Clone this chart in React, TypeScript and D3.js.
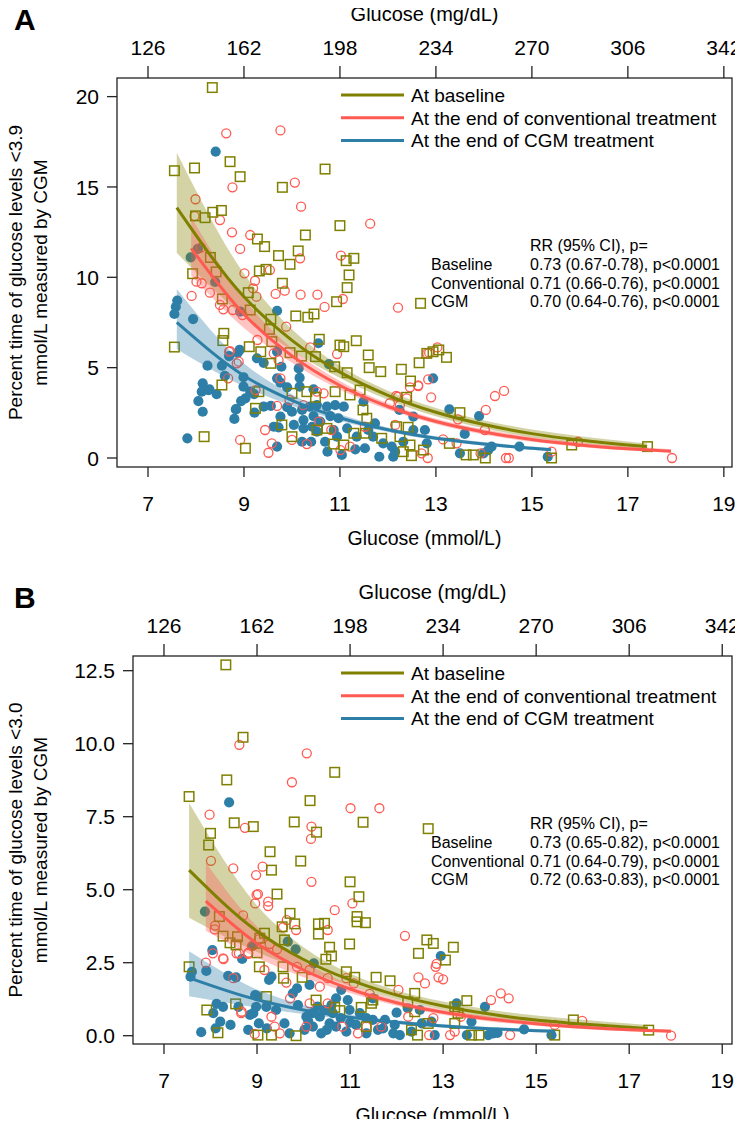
import React from "react";
import * as d3 from "d3";

// ---------- DATA ----------
// Panel A: percent time < 3.9 mmol/L ; x = mean glucose (mmol/L)
const baselineA: [number, number][] = [
  [8.34,20.5],[7.55,15.9],[7.97,16.05],[8.71,16.4],[8.92,15.57],[7.99,13.4],[8.19,13.3],[8.35,13.6],[8.53,13.7],[8.30,11.1],[7.93,10.2],[8.42,10.3],[8.55,8.8],[8.58,6.9],[8.56,6.5],[7.55,6.14],[8.54,4.04],[8.17,1.18],
  [9.80,14.98],[10.69,15.99],[11.0,12.86],[10.28,12.34],[9.28,12.12],[9.43,11.7],[10.13,11.46],[9.72,11.2],[9.96,10.72],[11.13,10.92],[11.29,11.05],[11.19,10.13],[9.32,10.35],[9.46,10.44],[9.80,9.67],[11.15,9.43],[9.09,9.15],[10.93,8.65],[12.68,8.56],[9.13,8.19],[10.08,7.86],[10.33,7.79],[10.46,7.97],[9.56,7.68],[9.53,7.12],[9.11,6.16],[9.35,5.88],[10.57,6.57],[11.0,6.25],[11.08,6.16],[11.34,6.49],[11.59,5.70],[11.61,5.0],[11.85,4.78],[12.28,4.91],[12.65,5.27],[12.47,4.26],[12.81,5.79],[9.58,6.44],[9.96,5.83],[10.2,5.64],
  [9.56,5.24],[10.49,5.61],[10.89,5.05],[11.15,4.72],[9.31,3.67],[10.0,3.58],[10.31,3.67],[10.49,3.36],[10.90,3.67],[11.21,3.49],[11.48,2.66],[9.24,2.75],[9.79,1.83],[10.0,1.18],[10.52,1.55],[10.73,1.64],[10.87,0.77],[11.08,0.72],[11.29,1.37],[9.03,0.54],[11.53,1.37],
  [13.06,5.98],[13.22,5.57],[12.39,3.36],[11.42,3.76],[11.56,2.20],[13.5,2.51],[12.18,1.73],[12.42,1.70],[11.87,1.09],[12.25,1.18],[12.46,0.72],[12.32,0.35],[12.49,0.13],[12.74,0.44],[13.28,0.81],[13.63,0.17],[13.78,0.17],[14.03,0.0],[15.41,0.0],[15.83,0.72],[17.41,0.63],[12.94,5.88]
];
const conventionalA: [number, number][] = [
  [8.63,17.97],[8.76,14.98],[7.99,14.32],[8.5,13.17],[8.75,12.49],[7.97,13.39],[8.1,11.64],[8.92,11.57],[8.01,9.76],[8.12,9.67],[8.29,9.15],[7.91,8.97],[8.5,8.47],[8.57,8.23],[8.77,8.19],[8.69,5.88],[8.85,5.24],[8.67,4.41],[8.92,1.0],
  [9.76,18.13],[10.06,15.24],[10.19,13.91],[11.63,12.97],[9.13,12.34],[10.17,11.05],[11.02,11.2],[9.01,10.22],[9.54,10.4],[9.23,9.81],[9.19,9.39],[9.66,9.08],[9.85,9.26],[10.18,9.04],[10.53,9.04],[10.68,8.36],[11.06,8.80],[12.21,8.32],[9.26,8.93],[8.97,7.91],[9.88,7.27],[10.38,6.12],[10.94,5.75],[12.82,5.79],[12.63,4.02],[12.21,3.39],
  [9.28,6.53],[9.62,5.79],[8.89,5.33],[8.71,5.92],[9.72,5.42],[9.24,3.76],[9.76,4.41],[10.52,3.67],[10.66,3.58],[9.69,2.88],[9.95,3.21],[10.24,2.93],[10.56,2.01],[10.82,1.55],[9.44,1.55],[10.0,1.0],[10.31,0.77],[9.58,0.81],[9.51,0.29],[11.01,0.44],[11.21,0.63],
  [13.03,6.12],[12.86,5.83],[12.46,3.91],[12.63,3.98],[12.84,4.35],[12.90,3.36],[14.23,3.43],[14.42,3.71],[14.04,2.66],[13.46,2.14],[14.02,1.55],[13.15,1.03],[13.43,0.81],[13.93,0.26],[14.46,0.0],[14.52,0.0],[15.96,0.90],[15.41,0.35],[12.70,0.26],[12.83,0.0],[12.04,3.03],[12.17,3.43],[12.25,2.93],[12.39,3.30],[11.52,1.73],[12.15,1.83],[17.92,0.0]
];
const cgmA: [number, number][] = [
  [8.41,16.95],[7.89,11.1],[8.04,11.57],[8.40,9.74],[7.61,8.71],[7.58,8.37],[7.55,7.97],[7.94,7.69],[8.92,8.1],[8.69,5.64],[8.87,5.83],[8.24,5.11],[8.54,5.11],[8.60,4.54],[8.14,4.13],[8.12,3.67],[8.26,3.76],[8.43,3.54],[8.05,3.15],[8.14,2.56],[8.83,2.69],[8.80,2.16],[7.82,1.09],
  [9.69,8.15],[10.55,6.35],[8.91,5.98],[9.27,5.52],[9.41,5.27],[9.78,5.05],[9.69,5.88],[10.14,4.96],[10.77,5.20],[8.99,4.47],[9.69,4.41],[9.76,4.17],[9.90,3.91],[10.16,3.95],[10.45,3.80],[8.28,3.80],[8.99,3.95],[9.13,3.67],[9.21,3.54],[9.03,3.30],[8.94,3.15],[8.84,2.71],[9.22,2.51],[9.41,2.84],[9.56,2.88],[9.76,2.29],[9.90,2.81],[10.0,2.56],[10.21,2.66],[10.37,2.84],[10.52,2.93],[10.73,2.84],[10.90,2.93],[11.08,2.84],[10.24,2.10],[10.45,2.32],[10.59,2.01],[10.80,2.32],[10.97,2.20],[9.62,1.73],[9.72,1.70],[10.04,1.83],[10.24,1.64],[10.42,1.73],[10.52,1.46],[10.87,1.55],[11.15,1.64],[11.35,1.18],[10.21,0.90],[10.40,0.90],[10.69,0.90],[10.94,1.18],[9.69,0.63],[10.74,0.35],[11.04,0.17],[11.32,0.48],[10.16,4.44],
  [12.94,4.41],[13.28,2.69],[13.90,2.32],[13.60,1.33],[11.49,3.12],[11.73,1.92],[11.59,1.55],[11.69,1.18],[11.90,0.81],[11.52,0.54],[11.82,0.07],[12.11,0.07],[12.08,0.63],[12.32,0.90],[12.15,0.35],[12.53,1.55],[12.77,1.55],[12.81,0.81],[12.24,2.66],[12.53,2.29],[13.5,0.26],[13.99,0.26],[14.09,0.44],[14.16,0.63],[14.74,0.63],[15.33,0.07]
];

// Panel B: percent time < 3.0 mmol/L
const baselineB: [number, number][] = [
  [8.33,12.70],[8.70,10.22],[8.35,8.76],[7.54,8.19],[8.0,6.93],[7.96,6.53],[8.51,7.29],[8.92,7.16],[8.19,4.08],[8.27,3.41],[8.42,3.18],[8.55,3.11],[8.58,3.39],[7.54,2.36],[7.92,0.88],[8.54,1.09],[9.05,2.36],[9.06,3.34],
  [9.16,3.51],[9.0,2.84],[9.43,4.85],[9.71,4.19],[9.81,3.83],[9.54,3.73],[9.59,3.28],[9.56,2.36],[9.57,1.97],[9.97,2.0],[10.32,3.83],[10.45,3.85],[10.32,3.48],[11.0,5.27],[11.19,4.76],[11.15,4.08],[11.15,3.90],[11.33,3.87],[10.99,3.14],[10.56,3.03],[10.60,2.73],[10.48,2.62],[10.92,2.19],[11.10,2.0],[11.56,2.0],[10.27,1.22],[9.20,1.34],[8.16,0.10],[9.02,0.02],[9.31,0.02],[9.84,0.0],[10.67,0.97],[10.78,0.86],[11.24,0.97],[11.46,1.11],[11.49,1.22],[11.35,0.31],
  [10.67,9.02],[10.14,8.05],[9.80,7.32],[10.28,6.97],[11.28,7.31],[12.68,7.09],[9.28,6.30],[9.94,5.98],[9.31,5.67],[12.65,3.28],[12.79,3.16],[12.47,2.82],[11.86,1.88],[12.39,1.45],
  [13.22,3.03],[13.05,2.59],[13.51,1.20],[12.24,1.16],[13.25,0.99],[13.32,0.77],[12.39,0.82],[12.32,0.20],[12.45,0.02],[13.25,0.42],[13.61,0.02],[13.77,0.02],[15.40,0.02],[15.80,0.54],[12.68,0.42],[17.42,0.19]
];
const conventionalB: [number, number][] = [
  [8.62,9.96],[7.98,7.57],[8.74,7.12],[8.01,5.99],[8.49,5.73],[8.98,5.50],[8.99,4.82],[8.96,4.53],[8.70,4.12],[8.10,3.77],[8.09,3.64],[7.90,2.50],[8.05,2.82],[8.28,2.62],[8.56,2.82],[8.49,1.97],[8.81,2.84],[8.67,0.82],
  [10.17,5.27],[11.05,4.53],[10.67,4.30],[9.02,4.85],[9.24,4.59],[9.24,4.44],[9.64,3.96],[9.56,3.71],[9.84,3.62],[10.52,3.62],[9.04,3.30],[9.27,3.14],[9.43,2.96],[8.89,3.07],[8.61,2.82],[8.81,2.80],[8.27,2.65],[9.16,2.25],[9.86,2.36],[10.13,2.25],[9.63,1.82],[10.35,1.68],[10.52,1.97],[10.92,1.97],[11.08,1.79],[11.42,1.43],[9.71,1.28],[10.13,1.11],[10.52,1.11],[8.66,0.77],[9.31,0.65],[9.38,0.31],[9.49,0.08],[10.06,0.31],[8.95,0.06],[11.35,0.31],[11.17,0.08],[11.67,0.31],[10.83,0.31],
  [10.07,9.67],[9.75,8.68],[11.01,7.79],[11.63,7.79],[10.17,7.16],[10.16,6.74],[9.12,5.79],[12.18,3.42],[12.86,2.46],[12.47,2.0],[12.61,1.79],[13.0,1.93],[12.04,1.57],
  [12.84,2.36],[12.90,2.0],[14.03,1.22],[14.24,1.45],[14.41,1.28],[13.38,0.65],[12.79,0.60],[12.70,0.02],[13.15,0.02],[13.25,0.14],[14.44,0.02],[15.40,0.37],[15.99,0.51],[12.25,0.65],[17.9,0.0]
];
const cgmB: [number, number][] = [
  [8.40,7.99],[7.88,4.25],[8.91,3.08],[8.04,2.93],[8.68,2.63],[7.60,2.19],[7.57,2.02],[7.91,2.22],[8.38,2.05],[8.55,2.0],[8.13,1.09],[8.27,0.99],[8.06,0.77],[8.96,1.39],[8.92,0.77],[8.60,0.99],
  [9.31,2.02],[9.26,1.91],[9.66,3.22],[9.83,2.96],[10.22,2.48],[9.86,1.62],[9.77,1.45],[10.13,1.74],[9.0,1.36],[8.98,0.99],[8.85,0.71],[9.04,0.42],[8.81,0.20],[8.21,0.48],[8.11,0.25],[8.43,0.37],[7.80,0.12],[9.20,0.99],[9.41,0.88],[9.21,0.25],[9.59,0.42],[9.70,0.08],[9.88,1.05],[10.06,0.65],[10.20,0.77],[10.35,0.65],[10.45,0.88],[10.63,0.77],[10.70,1.28],[10.81,1.57],[10.95,1.22],[10.99,0.88],[11.21,0.77],[11.35,0.60],[11.49,0.54],[10.20,0.31],[10.38,0.08],[10.70,0.31],[10.92,0.14],[11.13,0.37],[11.35,0.08],[11.60,0.20],[10.02,0.20],[10.56,0.42],[11.49,1.28],[10.1,0.5],[10.3,1.0],[10.5,0.2],[10.8,0.6],[11.0,0.45],[10.6,1.05],
  [12.95,2.73],[13.29,1.11],[13.90,0.99],[13.61,0.48],[12.0,0.79],[12.24,0.94],[12.50,0.88],[12.75,0.48],[12.82,0.02],[12.32,0.14],[11.75,0.54],[11.71,0.25],[11.93,0.08],[12.07,0.02],[12.54,0.42],[13.51,0.02],[13.97,0.02],[14.08,0.08],[14.17,0.10],[14.74,0.22],[15.33,0.02],[11.96,0.37]
];

// Fitted curves with 95% CI: [x, fit, lower, upper]
const fitBaselineA = [[7.6,13.86,11.35,16.9],[9,8.92,7.83,10.2],[10,6.51,5.95,7.12],[11,4.75,4.43,5.10],[12,3.47,3.23,3.72],[13,2.53,2.31,2.77],[14,1.85,1.64,2.08],[15,1.35,1.15,1.58],[16,0.99,0.81,1.21],[17,0.72,0.57,0.92],[17.4,0.63,0.49,0.82]];
const fitConventionalA = [[7.9,11.6,10.09,13.34],[9,7.96,7.20,8.80],[10,5.65,5.27,6.06],[11,4.01,3.78,4.26],[12,2.85,2.68,3.03],[13,2.02,1.88,2.17],[14,1.44,1.30,1.59],[15,1.02,0.90,1.16],[16,0.72,0.61,0.85],[17,0.51,0.41,0.63],[17.9,0.38,0.30,0.49]];
const fitCgmA = [[7.6,7.5,6.02,9.35],[9,4.55,3.96,5.23],[10,3.19,2.89,3.52],[11,2.23,2.06,2.42],[12,1.56,1.44,1.69],[13,1.09,0.99,1.20],[14,0.77,0.68,0.88],[15,0.54,0.46,0.64],[15.4,0.46,0.38,0.56]];
const fitBaselineB = [[7.54,5.67,4.04,7.97],[9,3.58,2.87,4.46],[10,2.61,2.25,3.03],[11,1.91,1.71,2.13],[12,1.39,1.25,1.55],[13,1.02,0.89,1.17],[14,0.74,0.61,0.89],[15,0.54,0.42,0.69],[16,0.40,0.29,0.55],[17,0.29,0.20,0.42],[17.4,0.25,0.17,0.37]];
const fitConventionalB = [[7.9,4.61,3.59,5.92],[9,3.16,2.67,3.74],[10,2.25,2.00,2.54],[11,1.60,1.46,1.75],[12,1.13,1.03,1.24],[13,0.80,0.72,0.89],[14,0.57,0.49,0.66],[15,0.41,0.34,0.50],[16,0.29,0.23,0.37],[17,0.20,0.15,0.27],[17.9,0.15,0.11,0.21]];
const fitCgmB = [[7.54,1.98,1.35,2.89],[9,1.23,0.96,1.58],[10,0.88,0.74,1.05],[11,0.63,0.55,0.72],[12,0.46,0.40,0.53],[13,0.33,0.28,0.39],[14,0.24,0.19,0.30],[15,0.17,0.13,0.23],[15.4,0.15,0.11,0.21]];

const mmolTicks = [7, 9, 11, 13, 15, 17, 19];
const mgdlTicks = [126, 162, 198, 234, 270, 306, 342];
const yTicksA = [0, 5, 10, 15, 20];
const yTicksB = [0, 2.5, 5, 7.5, 10, 12.5];
const legendLabels = ["At baseline", "At the end of conventional treatment", "At the end of CGM treatment"];
const rrLabels = ["Baseline", "Conventional", "CGM"];
const rrA = ["0.73 (0.67-0.78), p<0.0001", "0.71 (0.66-0.76), p<0.0001", "0.70 (0.64-0.76), p<0.0001"];
const rrB = ["0.73 (0.65-0.82), p<0.0001", "0.71 (0.64-0.79), p<0.0001", "0.72 (0.63-0.83), p<0.0001"];

// ---------- STYLE ----------
const OLIVE = "#808000";
const RED = "#ff5a52";
const BLUE = "#2e7fa7";
const FONT = "'Liberation Sans', Arial, Helvetica, sans-serif";

type Panel = {
  letter: string;
  left: number; right: number; top: number; bottom: number;
  xDom: [number, number]; yDom: [number, number];
  yTicks: number[]; yFmt: (v: number) => string;
  yTitle: string;
  base: [number, number][]; conv: [number, number][]; cgm: [number, number][];
  fits: number[][][];
  rr: string[];
};

const panels: Panel[] = [
  {
    letter: "A", left: 117, right: 732, top: 78, bottom: 467,
    xDom: [6.354, 19.17], yDom: [-0.498, 21.03],
    yTicks: yTicksA, yFmt: (v) => d3.format("d")(v),
    yTitle: "Percent time of glucose levels <3.9",
    base: baselineA, conv: conventionalA, cgm: cgmA,
    fits: [fitBaselineA, fitConventionalA, fitCgmA], rr: rrA,
  },
  {
    letter: "B", left: 133, right: 732, top: 656, bottom: 1044,
    xDom: [6.334, 19.21], yDom: [-0.284, 13.003],
    yTicks: yTicksB, yFmt: (v) => d3.format(".1f")(v),
    yTitle: "Percent time of glucose levels <3.0",
    base: baselineB, conv: conventionalB, cgm: cgmB,
    fits: [fitBaselineB, fitConventionalB, fitCgmB], rr: rrB,
  },
];

const COLORS = [OLIVE, RED, BLUE];

function PanelView({ p }: { p: Panel }) {
  const x = d3.scaleLinear().domain(p.xDom).range([p.left, p.right]);
  const y = d3.scaleLinear().domain(p.yDom).range([p.bottom, p.top]);
  const cx = (p.left + p.right) / 2;
  const cy = (p.top + p.bottom) / 2;
  const area = d3.area<number[]>().x((d) => x(d[0])).y0((d) => y(d[2])).y1((d) => y(d[3])).curve(d3.curveMonotoneX);
  const line = d3.line<number[]>().x((d) => x(d[0])).y((d) => y(d[1])).curve(d3.curveMonotoneX);
  const sq = 9.5;
  const legX1 = 341;
  const legX2 = 404;
  const legY0 = p.top + 17;
  const rrLabelX = 431;
  const rrValX = 530;
  const rrY0 = p.top + 167;
  return (
    <g>
      <text x={14} y={p.top - 48} fontFamily={FONT} fontWeight="bold" fontSize={30}>{p.letter}</text>
      {/* frame */}
      <rect x={p.left} y={p.top} width={p.right - p.left} height={p.bottom - p.top} fill="none" stroke="#222" strokeWidth={1.3} />
      {/* points */}
      <g>
        {p.cgm.map((d, i) => (
          <circle key={"c" + i} cx={x(d[0])} cy={y(d[1])} r={5.1} fill={BLUE} />
        ))}
        {p.conv.map((d, i) => (
          <circle key={"r" + i} cx={x(d[0])} cy={y(d[1])} r={4.5} fill="none" stroke={RED} strokeWidth={1.3} />
        ))}
        {p.base.map((d, i) => (
          <rect key={"b" + i} x={x(d[0]) - sq / 2} y={y(d[1]) - sq / 2} width={sq} height={sq} fill="none" stroke={OLIVE} strokeWidth={1.5} />
        ))}
      </g>
      {/* CI bands */}
      {p.fits.map((f, i) => (
        <path key={"a" + i} d={area(f) || ""} fill={COLORS[i]} fillOpacity={0.35} stroke="none" />
      ))}
      {/* fitted lines */}
      {p.fits.map((f, i) => (
        <path key={"l" + i} d={line(f) || ""} fill="none" stroke={COLORS[i]} strokeWidth={3} />
      ))}
      {/* left axis */}
      {p.yTicks.map((t) => (
        <g key={"yt" + t}>
          <line x1={p.left - 10} x2={p.left} y1={y(t)} y2={y(t)} stroke="#222" strokeWidth={1.3} />
          <text x={p.left - 18} y={y(t)} dy="0.36em" textAnchor="end" fontFamily={FONT} fontSize={21}>{p.yFmt(t)}</text>
        </g>
      ))}
      {/* bottom axis */}
      {mmolTicks.map((t) => (
        <g key={"xt" + t}>
          <line x1={x(t)} x2={x(t)} y1={p.bottom} y2={p.bottom + 10} stroke="#222" strokeWidth={1.3} />
          <text x={x(t)} y={p.bottom + 44} textAnchor="middle" fontFamily={FONT} fontSize={21}>{t}</text>
        </g>
      ))}
      <text x={cx} y={p.bottom + 78} textAnchor="middle" fontFamily={FONT} fontSize={19.5}>Glucose (mmol/L)</text>
      {/* top axis */}
      {mgdlTicks.map((t) => (
        <g key={"tt" + t}>
          <line x1={x(t / 18)} x2={x(t / 18)} y1={p.top - 12} y2={p.top} stroke="#222" strokeWidth={1.3} />
          <text x={x(t / 18)} y={p.top - 23} textAnchor="middle" fontFamily={FONT} fontSize={21}>{t}</text>
        </g>
      ))}
      <text x={cx} y={p.top - 57} textAnchor="middle" fontFamily={FONT} fontSize={20}>Glucose (mg/dL)</text>
      {/* y title */}
      <text transform={`translate(15,${cy}) rotate(-90)`} textAnchor="middle" dy="0.36em" fontFamily={FONT} fontSize={19}>{p.yTitle}</text>
      <text transform={`translate(40,${cy}) rotate(-90)`} textAnchor="middle" dy="0.36em" fontFamily={FONT} fontSize={19}>mmol/L measured by CGM</text>
      {/* legend */}
      {legendLabels.map((lab, i) => (
        <g key={"lg" + i}>
          <line x1={legX1} x2={legX2} y1={legY0 + i * 22.7} y2={legY0 + i * 22.7} stroke={COLORS[i]} strokeWidth={3} />
          <text x={legX2 + 7} y={legY0 + i * 22.7} dy="0.36em" fontFamily={FONT} fontSize={19}>{lab}</text>
        </g>
      ))}
      {/* RR annotation */}
      <text x={rrValX} y={rrY0} dy="0.36em" fontFamily={FONT} fontSize={16}>RR (95% CI), p=</text>
      {rrLabels.map((lab, i) => (
        <g key={"rr" + i}>
          <text x={rrLabelX} y={rrY0 + 19 + i * 18.8} dy="0.36em" fontFamily={FONT} fontSize={16}>{lab}</text>
          <text x={rrValX} y={rrY0 + 19 + i * 18.8} dy="0.36em" fontFamily={FONT} fontSize={16}>{p.rr[i]}</text>
        </g>
      ))}
    </g>
  );
}

export default function App() {
  return (
    <svg width={743} height={1127} viewBox="0 0 743 1127" style={{ display: "block", margin: "-8px", background: "#fff" }}>
      <rect width={743} height={1127} fill="#fff" />
      {panels.map((p) => (
        <PanelView key={p.letter} p={p} />
      ))}
    </svg>
  );
}
